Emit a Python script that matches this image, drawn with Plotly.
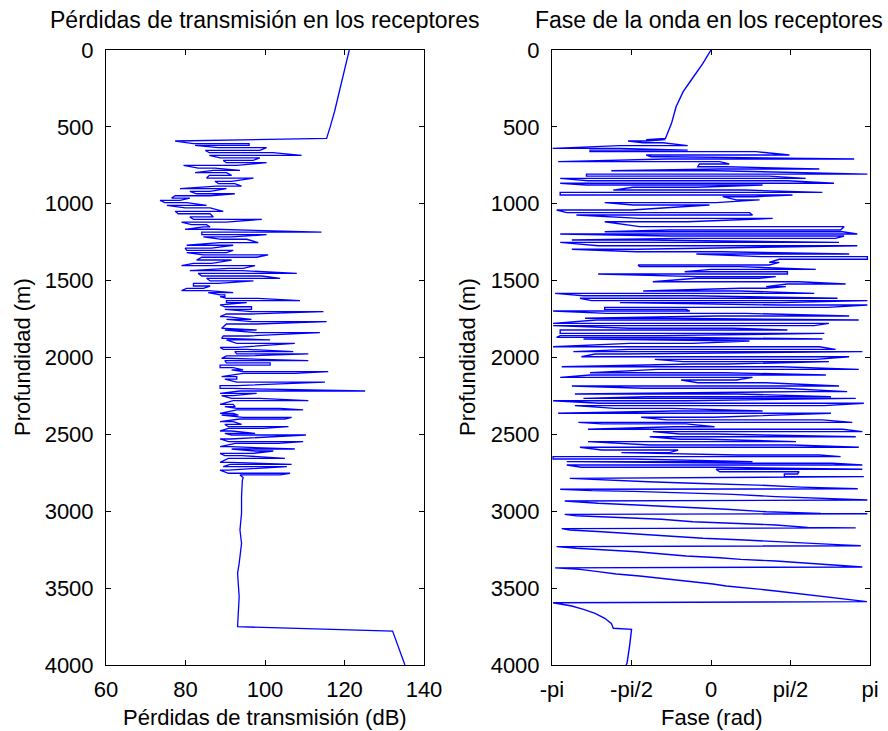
import math
import plotly.graph_objects as go

W, H = 888, 731
PI = math.pi
FONT = "Liberation Sans, Arial, sans-serif"
BLUE = "#0000ff"

# ---------------- Transmission loss (left panel) ----------------
tl_top_depth = [0, 100, 200, 300, 400, 500, 575, 592]
tl_top_db = [121.2, 120.3, 119.4, 118.5, 117.5, 116.4, 115.5, 77.4]

# noisy region: each row = depth, left end, right end of the zig-zag
tl_row_depth = [609, 620, 635, 653, 668, 685, 702, 718, 733, 750,
                768, 783, 798, 815, 833, 854, 869, 885, 902, 919,
                935, 948, 963, 978, 993, 1010, 1027, 1049, 1065, 1086,
                1101, 1119, 1136, 1151, 1166, 1184, 1201, 1216, 1231, 1253,
                1270, 1288, 1303, 1318, 1333, 1348, 1366, 1388, 1403, 1420,
                1435, 1453, 1470, 1485, 1502, 1518, 1535, 1550, 1565, 1578,
                1593, 1604, 1615, 1630, 1643, 1658, 1670, 1687, 1702, 1717,
                1734, 1752, 1767, 1782, 1810, 1821, 1838, 1860, 1875, 1886,
                1908, 1934, 1947, 1962, 1977, 1990, 2005, 2020, 2035, 2049,
                2066, 2081, 2092, 2103, 2125, 2140, 2160, 2183, 2201, 2218,
                2233, 2248, 2266, 2281, 2305, 2320, 2331, 2341, 2363, 2374,
                2389, 2400, 2417, 2435, 2450, 2461, 2478, 2493, 2504, 2530,
                2547, 2558, 2580, 2595, 2608, 2623, 2638, 2656, 2682, 2695,
                2710, 2732, 2753, 2764]
tl_row_lo = [82.0, 82.4, 88.3, 85.0, 86.0, 86.0, 88.7, 89.5, 90.3, 79.5,
             83.2, 87.0, 82.4, 86.0, 85.3, 87.4, 88.3, 87.8, 78.6, 81.1,
             82.8, 77.4, 76.5, 73.6, 74.8, 75.3, 79.9, 77.4, 78.2, 81.1,
             82.0, 79.0, 81.5, 84.5, 79.9, 84.1, 84.1, 84.5, 89.1, 88.7,
             80.3, 79.9, 80.3, 80.3, 84.5, 84.1, 82.8, 82.0, 79.0, 90.8,
             81.1, 83.2, 84.1, 85.3, 86.2, 82.0, 82.0, 80.3, 79.0, 85.7,
             88.7, 88.7, 90.3, 90.3, 90.3, 88.7, 89.9, 89.9, 96.6, 90.3,
             88.7, 90.3, 96.6, 90.3, 89.1, 89.9, 97.9, 89.5, 89.1, 90.3,
             92.9, 88.7, 89.5, 92.4, 92.9, 90.3, 89.1, 89.9, 90.3, 88.7,
             88.7, 91.6, 94.5, 94.5, 89.1, 89.9, 92.9, 88.7, 88.7, 93.7,
             88.7, 89.1, 91.6, 92.0, 88.7, 89.9, 92.9, 92.9, 88.7, 89.1,
             94.5, 93.7, 88.7, 89.9, 90.8, 90.8, 88.7, 89.9, 91.6, 88.7,
             90.8, 92.5, 88.7, 91.6, 97.5, 88.7, 89.9, 90.8, 88.7, 91.2,
             89.5, 88.7, 90.8, 93.7]
tl_row_hi = [96.0, 96.0, 100.4, 98.7, 102.0, 109.2, 98.7, 97.0, 100.4, 92.9,
             87.4, 93.7, 90.3, 91.6, 97.1, 91.6, 92.4, 94.1, 90.3, 86.2,
             92.4, 86.2, 81.1, 78.6, 80.3, 85.3, 86.2, 89.5, 86.2, 87.0,
             99.2, 90.3, 85.3, 86.2, 87.4, 114.2, 100.4, 91.6, 95.4, 98.3,
             92.0, 86.6, 92.0, 90.3, 100.8, 97.9, 91.6, 86.6, 97.5, 94.5,
             94.1, 108.0, 99.2, 103.8, 97.1, 88.3, 86.2, 84.5, 85.7, 92.0,
             89.9, 89.9, 98.3, 108.8, 95.4, 90.0, 96.6, 96.6, 114.7, 96.6,
             90.3, 96.6, 115.5, 97.9, 90.0, 97.9, 113.8, 95.8, 90.3, 101.3,
             107.5, 92.9, 95.4, 107.1, 110.9, 95.4, 90.3, 110.9, 101.3, 101.3,
             92.0, 94.5, 115.9, 107.5, 92.9, 92.9, 115.1, 92.9, 92.0, 125.2,
             97.9, 92.0, 98.7, 110.9, 92.0, 92.5, 103.8, 109.6, 92.0, 93.3,
             106.7, 105.0, 92.0, 94.1, 105.9, 99.6, 91.6, 97.5, 110.3, 91.2,
             109.6, 103.3, 91.2, 107.5, 102.1, 97.1, 94.1, 105.0, 91.2, 106.7,
             105.5, 90.8, 106.3, 103.8]

tl_bot_depth = [2781, 2800, 2905, 3013, 3122, 3209, 3339, 3404, 3556, 3751, 3779, 4000]
tl_bot_db = [94.5, 94.3, 94.1, 94.1, 93.7, 94.1, 93.5, 93.1, 93.5, 93.1, 132.1, 135.2]

# ---------------- Phase (right panel) ----------------
ph_top_depth = [0, 87, 195, 271, 369, 477, 575]
ph_top_val = [0.00, -0.16, -0.39, -0.55, -0.69, -0.78, -0.90]

ph_row_depth = [583, 592, 603, 622, 640, 651, 661, 683, 694, 709,
                726, 741, 759, 774, 785, 807, 820, 835, 850, 867,
                878, 893, 911, 926, 943, 954, 975, 993, 1008, 1041,
                1058, 1073, 1095, 1117, 1149, 1171, 1182, 1197, 1210, 1225,
                1236, 1251, 1273, 1296, 1312, 1327, 1344, 1361, 1381, 1398,
                1409, 1427, 1442, 1457, 1474, 1485, 1507, 1522, 1539, 1550,
                1567, 1583, 1598, 1615, 1630, 1643, 1659, 1674, 1687, 1698,
                1713, 1730, 1745, 1756, 1778, 1793, 1810, 1821, 1843, 1858,
                1869, 1880, 1893, 1908, 1930, 1947, 1962, 1977, 1995, 2012,
                2027, 2042, 2060, 2077, 2099, 2114, 2129, 2146, 2164, 2185,
                2200, 2222, 2237, 2255, 2266, 2281, 2298, 2313, 2331, 2348,
                2363, 2389, 2406, 2422, 2432, 2450, 2467, 2482, 2498, 2515,
                2532, 2547, 2569, 2584, 2602, 2619, 2634, 2645, 2660, 2677,
                2688, 2699, 2714, 2727, 2743, 2758, 2775]
ph_row_left = [-1.28, -1.64, -1.34, -1.80, -3.13, -2.39, -2.39, -1.28, -1.18, -0.88,
               -3.02, -0.23, -0.26, 0.17, -1.97, -2.46, -2.46, -2.98, -2.43, -2.98,
               -2.46, -1.54, -1.93, -2.98, -2.98, 0.23, 0.50, -2.10, -1.54, -3.05,
               -2.85, -2.66, -1.41, -2.10, -1.41, -0.82, -2.10, -2.98, -0.82, -0.62,
               -2.75, -2.98, -2.23, -2.75, -1.47, -0.29, 0.99, 1.35, 1.15, -1.44,
               -1.41, 0.00, -0.52, -2.23, -0.26, -0.29, -1.15, 1.51, 1.09, 0.59,
               -1.34, -3.08, -2.52, -2.59, -2.36, -1.80, 1.35, -2.10, -2.10, -3.12,
               -2.06, 0.10, -2.49, -2.26, -3.12, -3.12, -1.61, -2.98, -2.98, -2.98,
               -3.05, -2.52, 0.30, -1.61, -3.12, -1.61, -2.72, -2.29, -2.56, -1.11,
               -0.55, -0.36, -2.95, -1.05, -2.39, -2.39, -2.98, -0.59, -0.26, -2.75,
               -1.34, 1.74, -2.69, -1.28, -2.52, -3.12, -2.20, -2.69, -1.90, -0.75,
               -3.02, -1.38, -0.88, -2.62, -2.16, -0.72, -2.43, -1.15, -0.62, -1.21,
               -0.62, -2.43, -1.21, -2.59, -2.16, -1.77, 0.53, -3.12, -3.12, -2.85,
               0.82, -2.85, -2.56, 0.10, 0.17, 1.45, 1.45]
ph_row_right = [-0.90, -1.28, -0.95, -0.46, -1.80, -0.46, 0.89, 1.55, -0.88, 2.83,
                0.17, 0.36, 0.30, 2.14, 0.10, 3.09, 1.15, 1.87, 1.51, 2.43,
                1.02, -0.29, 0.66, 2.20, 1.61, 0.86, 0.96, 0.10, -0.03, -1.57,
                0.76, 0.82, 1.22, -0.46, 2.63, 2.56, 2.60, 2.89, 2.63, 2.46,
                -1.28, 2.53, 2.89, -1.47, 0.20, 2.73, 3.09, 3.09, 1.35, 1.15,
                0.56, 2.07, 1.51, 1.51, 1.28, 0.96, 1.74, 2.66, 1.48, 1.09,
                0.56, 2.04, -0.36, 2.50, 3.09, 1.38, 3.09, 2.30, -0.49, -0.42,
                0.69, 2.73, -0.88, 2.92, 2.33, 2.04, 0.43, 1.51, 2.24, -0.98,
                -0.49, 2.20, 0.76, -0.36, 2.14, 2.46, 2.99, -1.74, 2.73, 2.07,
                2.33, 0.33, 1.38, 2.92, 0.27, 2.27, 0.82, 0.50, 1.09, 2.53,
                1.41, 2.69, 0.53, 2.37, 2.86, -0.49, 3.02, 2.24, -0.75, 1.02,
                2.37, 0.04, 2.20, 2.79, -0.49, 0.07, 2.60, 2.99, 0.10, 2.86,
                -0.09, 1.68, 1.61, 2.92, -0.65, -0.82, 2.14, 2.56, -1.54, 0.82,
                2.40, 2.99, 0.10, 2.99, 1.74, 1.71, 3.02]

ph_saw_depth = [2786, 2797, 2808, 2818, 2830, 2843, 2854,
                2857, 2866, 2871, 2877, 2890, 2905, 2916, 2927,
                2933, 2948, 2959, 2974, 2987, 3003, 3014, 3016,
                3020, 3029, 3040, 3052, 3068, 3079, 3089, 3105, 3108,
                3113, 3122, 3133, 3150, 3165, 3176, 3187, 3198, 3209, 3219, 3224,
                3230, 3241, 3252, 3263, 3278, 3291, 3302, 3313, 3324, 3334, 3350, 3360, 3363,
                3368, 3378, 3393, 3408, 3421, 3432, 3447, 3462, 3473, 3486, 3497, 3508,
                3519, 3534, 3549, 3560, 3573, 3582, 3588]
ph_saw_val = [-2.79, -2.10, -1.24, -0.36, 0.92, 1.78, 2.90,
              -2.98, -2.36, -1.54, -0.75, 0.43, 1.28, 2.04, 3.09,
              -2.89, -2.23, -1.47, -0.36, 0.30, 1.09, 2.17, 3.09,
              -2.89, -2.66, -1.67, -0.98, -0.36, 0.59, 1.28, 1.91, 2.86,
              -2.95, -2.79, -2.16, -1.31, -0.75, -0.16, 0.66, 1.25, 1.81, 2.60, 2.96,
              -3.05, -2.66, -1.93, -1.47, -0.95, -0.49, 0.17, 0.59, 1.28, 1.68, 2.33, 2.73, 2.99,
              -3.08, -2.59, -2.23, -1.87, -1.41, -1.08, -0.75, -0.29, 0.04, 0.30, 0.69, 0.99,
              1.28, 1.68, 2.07, 2.40, 2.79, 3.02, 3.08]

ph_bot_depth = [3595, 3603, 3616, 3638, 3664, 3696, 3729, 3761, 3768, 3881, 3989, 4000]
ph_bot_val = [-3.12, -2.98, -2.75, -2.52, -2.29, -2.10, -1.97, -1.93, -1.57, -1.61, -1.66, -1.68]

depth_ticks = [0, 500, 1000, 1500, 2000, 2500, 3000, 3500, 4000]
tl_ticks = [60, 80, 100, 120, 140]
phase_tick_vals = [-PI, -PI / 2, 0, PI / 2, PI]
phase_tick_text = ["-pi", "-pi/2", "0", "pi/2", "pi"]


def zigzag(depths, left, right):
    xs, ys = [], []
    for k, (d, a, b) in enumerate(zip(depths, left, right)):
        xs.extend([a, b] if k % 2 == 0 else [b, a])
        ys.extend([d, d])
    return xs, ys


zx, zy = zigzag(tl_row_depth, tl_row_lo, tl_row_hi)
tl_x = tl_top_db + zx + tl_bot_db
tl_y = tl_top_depth + zy + tl_bot_depth

px_, py_ = zigzag(ph_row_depth, ph_row_left, ph_row_right)
ph_x = ph_top_val + px_ + ph_saw_val + ph_bot_val
ph_y = ph_top_depth + py_ + ph_saw_depth + ph_bot_depth

fig = go.Figure()
fig.add_trace(go.Scatter(x=tl_x, y=tl_y, mode="lines", line=dict(color=BLUE, width=1.3),
                         xaxis="x", yaxis="y", showlegend=False, hoverinfo="skip"))
fig.add_trace(go.Scatter(x=ph_x, y=ph_y, mode="lines", line=dict(color=BLUE, width=1.4),
                         xaxis="x2", yaxis="y2", showlegend=False, hoverinfo="skip"))

FS = 22
ax = dict(showline=True, linecolor="black", linewidth=1, mirror="ticks", ticks="inside",
          ticklen=5, tickcolor="black", tickwidth=1, showgrid=False, zeroline=False,
          automargin=False, tickfont=dict(family=FONT, size=FS, color="black"))

ydom = [(H - 665) / H, (H - 50) / H]
fig.update_layout(
    width=W, height=H, margin=dict(l=0, r=0, t=0, b=0),
    paper_bgcolor="white", plot_bgcolor="white", showlegend=False,
    xaxis=dict(ax, domain=[106 / W, 424 / W], range=[60, 140], tickvals=tl_ticks,
               anchor="y", ticklabelstandoff=5),
    yaxis=dict(ax, domain=ydom, range=[4000, 0], tickvals=depth_ticks, anchor="x",
               ticklabelstandoff=7),
    xaxis2=dict(ax, domain=[552 / W, 870 / W], range=[-PI, PI], tickvals=phase_tick_vals,
                ticktext=phase_tick_text, anchor="y2", ticklabelstandoff=5),
    yaxis2=dict(ax, domain=ydom, range=[4000, 0], tickvals=depth_ticks, anchor="x2",
                ticklabelstandoff=7),
)

title_font = dict(family=FONT, size=23, color="black")
label_font = dict(family=FONT, size=22, color="black")
annots = [
    dict(text="Pérdidas de transmisión en los receptores", x=265 / W, y=1 - 20 / H, font=title_font),
    dict(text="Fase de la onda en los receptores", x=709 / W, y=1 - 20 / H, font=title_font),
    dict(text="Pérdidas de transmisión (dB)", x=265 / W, y=1 - 717 / H, font=label_font),
    dict(text="Fase (rad)", x=711 / W, y=1 - 717 / H, font=label_font),
    dict(text="Profundidad (m)", x=22 / W, y=1 - 357 / H, textangle=-90, font=label_font),
    dict(text="Profundidad (m)", x=467 / W, y=1 - 357 / H, textangle=-90, font=label_font),
]
for a in annots:
    fig.add_annotation(xref="paper", yref="paper", showarrow=False, xanchor="center",
                       yanchor="middle", **a)

fig.write_html("out.html")
